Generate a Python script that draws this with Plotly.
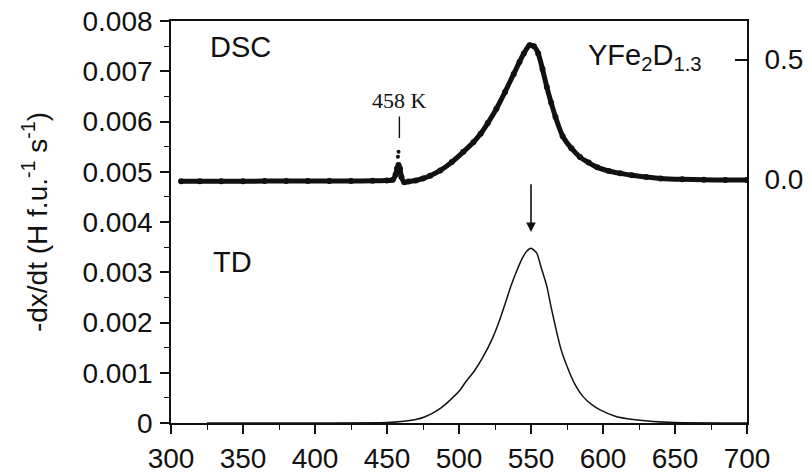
import plotly.graph_objects as go

# Temperature axis (K) and tick settings
x_range = [300, 700]
x_major_step = 50
y_range = [0, 0.008]
y_major_step = 0.001
y2_ticks = [0.0, 0.5]
y2_tick_text = ["0.0", "0.5"]

# DSC signal (right axis units)
dsc_T = [307, 320, 335, 350, 365, 380, 395, 410, 425, 440, 450, 454, 456, 457, 458, 459, 460,
         462, 465, 470, 475, 480, 487, 495, 503, 510, 515, 520, 526, 532, 538, 542, 545,
         549, 552, 555, 558, 561, 564, 567, 572, 578, 584, 590, 596, 604, 612, 620, 630,
         640, 655, 670, 685, 700]
dsc_val = [-0.008, -0.008, -0.008, -0.008, -0.007, -0.007, -0.007, -0.007, -0.007, -0.006, -0.005, -0.002, 0.02, 0.045, 0.06, 0.045, 0.01,
           -0.012, -0.009, -0.005, 0.004, 0.015, 0.037, 0.072, 0.115, 0.155, 0.19, 0.235, 0.295, 0.365, 0.44, 0.49, 0.525,
           0.56, 0.555, 0.525, 0.46, 0.385, 0.32, 0.26, 0.18, 0.13, 0.093, 0.07, 0.05, 0.035, 0.025, 0.017, 0.01,
           0.004, 0.0, -0.002, -0.003, -0.003]
# isolated points above the small 458 K event
dsc_spike_T = [458, 457.6]
dsc_spike_val = [0.115, 0.094]

# Thermal desorption rate (left axis)
td_T = [325, 400, 450, 460, 470, 476, 482, 488, 494, 500, 505, 511, 517, 523, 528, 532, 536, 540, 544, 547, 550, 554,
        557, 561, 564, 568, 571, 575, 580, 586, 592, 598, 609, 621, 635, 650, 700]
td_rate = [0, 0, 0.00001, 0.00003, 0.00007, 0.00012, 0.0002, 0.00031, 0.00046, 0.00063, 0.00083, 0.00105, 0.00133, 0.00167, 0.00203, 0.00237, 0.00272, 0.00302, 0.00328, 0.00342, 0.00348, 0.00338,
           0.0031, 0.00272, 0.0023, 0.00179, 0.00145, 0.00113, 0.0008, 0.00053, 0.00037, 0.00026, 0.00013, 0.00007, 0.00003, 0.00001, 0]

FONT = "Liberation Sans, Arial, sans-serif"
INK = "#111111"

fig = go.Figure()

fig.add_trace(go.Scatter(
    x=td_T, y=td_rate, mode="lines", yaxis="y",
    line=dict(color=INK, width=1.5, shape="spline", smoothing=0.6),
    showlegend=False, hoverinfo="skip"))

fig.add_trace(go.Scatter(
    x=dsc_T, y=dsc_val, mode="lines+markers", yaxis="y2",
    line=dict(color=INK, width=5, shape="spline", smoothing=0.6),
    marker=dict(size=6, color=INK),
    showlegend=False, hoverinfo="skip"))

fig.add_trace(go.Scatter(
    x=dsc_spike_T, y=dsc_spike_val, mode="markers", yaxis="y2",
    marker=dict(size=4, color=INK),
    showlegend=False, hoverinfo="skip"))

axis_common = dict(showgrid=False, zeroline=False, linecolor=INK, linewidth=1.6,
                   tickcolor=INK, tickwidth=1.6, automargin=False,
                   tickfont=dict(family=FONT, size=28, color=INK))

fig.update_layout(
    width=812, height=474,
    margin=dict(l=171, r=65, t=21, b=51),
    paper_bgcolor="white", plot_bgcolor="white",
    font=dict(family=FONT, color=INK),
    xaxis=dict(range=x_range, tickmode="linear", tick0=x_range[0], dtick=x_major_step,
               ticks="outside", ticklen=9, showline=True, mirror=True,
               ticklabelstandoff=1,
               minor=dict(dtick=x_major_step / 2, tick0=x_range[0], ticks="outside",
                          ticklen=5, tickcolor=INK, tickwidth=1.4),
               **axis_common),
    yaxis=dict(range=y_range, tickmode="linear", tick0=0, dtick=y_major_step,
               tickformat="~g", ticks="outside", ticklen=9, showline=True,
               ticklabelstandoff=2,
               minor=dict(dtick=y_major_step / 2, tick0=0, ticks="outside", ticklen=5,
                          tickcolor=INK, tickwidth=1.4),
               **axis_common),
    yaxis2=dict(range=[-1.0167, 0.6608], overlaying="y", side="right",
                tickvals=y2_ticks, ticktext=y2_tick_text,
                ticks="inside", ticklen=12, showline=True,
                ticklabelstandoff=10,
                **axis_common),
)

annotations = [
    dict(x=326, y=0.00749, xref="x", yref="y", text="DSC", showarrow=False,
         xanchor="left", yanchor="middle", font=dict(family=FONT, size=29, color=INK)),
    dict(x=328, y=0.00321, xref="x", yref="y", text="TD", showarrow=False,
         xanchor="left", yanchor="middle", font=dict(family=FONT, size=29, color=INK)),
    dict(x=588, y=0.00728, xref="x", yref="y", text="YFe<sub>2</sub>D<sub>1.3</sub>",
         showarrow=False, xanchor="left", yanchor="middle",
         font=dict(family=FONT, size=29, color=INK)),
    dict(x=458.6, y=0.00641, xref="x", yref="y", text="458 K", showarrow=False,
         xanchor="center", yanchor="middle",
         font=dict(family="Liberation Serif, Times New Roman, serif", size=22, color=INK)),
    dict(x=550, y=0.0038, xref="x", yref="y", ax=550, ay=0.00478, axref="x", ayref="y",
         text="", showarrow=True, arrowhead=2, arrowsize=1.2, arrowwidth=1.6,
         arrowcolor=INK),
    dict(x=-0.236, y=0.5, xref="paper", yref="paper",
         text="-dx/dt (H f.u.<sup>-1</sup> s<sup>-1</sup>)", textangle=-90,
         showarrow=False, xanchor="center", yanchor="middle",
         font=dict(family=FONT, size=28, color=INK)),
]
fig.update_layout(annotations=annotations)

# marker line under the 458 K label
fig.add_shape(type="line", xref="x", yref="y", x0=458.6, x1=458.6, y0=0.00567, y1=0.0061,
              line=dict(color=INK, width=1.4))

fig.write_html("out.html")
